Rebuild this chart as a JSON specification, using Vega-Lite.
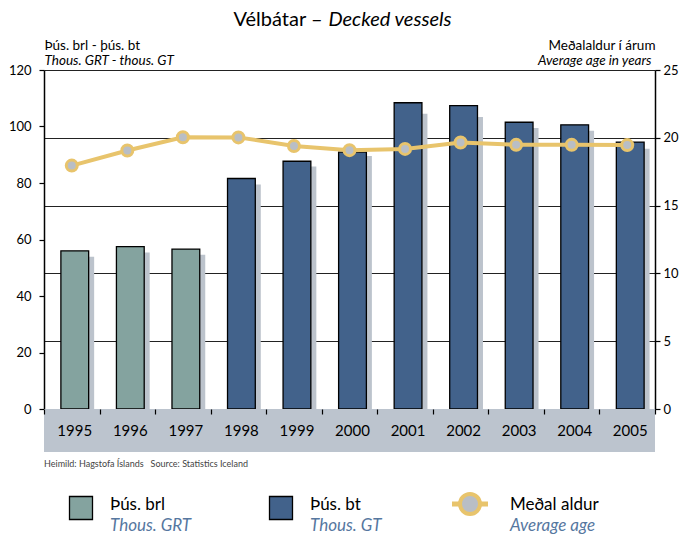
{
  "$schema": "https://vega.github.io/schema/vega-lite/v6.json",
  "padding": {"left": 8, "top": 9, "right": 5, "bottom": 0},
  "config": {
    "font": "Lato",
    "view": {"stroke": null},
    "axis": {"labelFont": "Lato", "titleFont": "Lato", "labelColor": "#000", "titleColor": "#000"},
    "title": {"font": "Lato"}
  },
  "datasets": {
    "main": [
      {"year": "1995", "unit": "brl", "tonnage": 56.0, "shadow": 53.9, "age": 17.95},
      {"year": "1996", "unit": "brl", "tonnage": 57.5, "shadow": 55.4, "age": 19.06},
      {"year": "1997", "unit": "brl", "tonnage": 56.6, "shadow": 54.6, "age": 20.04},
      {"year": "1998", "unit": "bt", "tonnage": 81.6, "shadow": 79.5, "age": 20.03},
      {"year": "1999", "unit": "bt", "tonnage": 87.7, "shadow": 85.8, "age": 19.4},
      {"year": "2000", "unit": "bt", "tonnage": 90.9, "shadow": 89.6, "age": 19.09},
      {"year": "2001", "unit": "bt", "tonnage": 108.4, "shadow": 104.5, "age": 19.18},
      {"year": "2002", "unit": "bt", "tonnage": 107.4, "shadow": 103.4, "age": 19.65},
      {"year": "2003", "unit": "bt", "tonnage": 101.5, "shadow": 99.5, "age": 19.48},
      {"year": "2004", "unit": "bt", "tonnage": 100.6, "shadow": 98.5, "age": 19.48},
      {"year": "2005", "unit": "bt", "tonnage": 94.5, "shadow": 92.1, "age": 19.46}
    ],
    "legend": [
      {"key": "brl", "line1": "Þús. brl", "line2": "Thous. GRT"},
      {"key": "bt", "line1": "Þús. bt", "line2": "Thous. GT"},
      {"key": "age", "line1": "Meðal aldur", "line2": "Average age"}
    ]
  },
  "spacing": 0,
  "bounds": "flush",
  "vconcat": [
    {
      "width": 611,
      "height": 339,
      "data": {"name": "main"},
      "layer": [
        {
          "encoding": {
            "x": {
              "field": "year", "type": "ordinal",
              "scale": {"paddingInner": 0, "paddingOuter": 0},
              "axis": {"orient": "bottom", "labels": false, "ticks": false, "domain": false, "grid": false,
                "title": "Thous. GRT - thous. GT", "titleX": 0, "titleY": -345, "titleAlign": "left",
                "titleBaseline": "alphabetic", "titleFontSize": 13.5, "titleFontStyle": "italic", "titleFontWeight": "normal"}
            }
          },
          "layer": [
            {
              "mark": {"type": "bar", "color": "#bcc3cc", "width": {"band": 0.5}, "xOffset": 8.5},
              "encoding": {
                "y": {
                  "field": "shadow", "type": "quantitative",
                  "scale": {"domain": [0, 120], "nice": false},
                  "axis": {"title": "Þús. brl - þús. bt", "titleAngle": 0, "titleX": 0, "titleY": -21, "titleAlign": "left",
                    "titleBaseline": "alphabetic", "titleFontSize": 13.5, "titleFontWeight": "normal",
                    "values": [0, 20, 40, 60, 80, 100, 120], "grid": false, "domainColor": "#000", "domainWidth": 1.5,
                    "tickColor": "#000", "tickSize": 5, "tickWidth": 1.2, "labelFontSize": 13, "labelPadding": 8}
                }
              }
            },
            {
              "mark": {"type": "bar", "width": {"band": 0.5}, "xOffset": 3, "stroke": "#000", "strokeWidth": 1.3},
              "encoding": {
                "y": {
                  "field": "tonnage", "type": "quantitative",
                  "axis": {"title": "Þús. brl - þús. bt", "titleAngle": 0, "titleX": 0, "titleY": -21, "titleAlign": "left",
                    "titleBaseline": "alphabetic", "titleFontSize": 13.5, "titleFontWeight": "normal",
                    "values": [0, 20, 40, 60, 80, 100, 120], "grid": false, "domainColor": "#000", "domainWidth": 1.5,
                    "tickColor": "#000", "tickSize": 5, "tickWidth": 1.2, "labelFontSize": 13, "labelPadding": 8}
                },
                "fill": {"field": "unit", "type": "nominal", "scale": {"domain": ["brl", "bt"], "range": ["#84a39f", "#42628b"]}, "legend": null}
              }
            }
          ]
        },
        {
          "encoding": {
            "x": {
              "field": "year", "type": "ordinal",
              "axis": {"orient": "top", "labels": false, "ticks": false, "domain": false, "grid": false,
                "title": "Average age in years", "titleX": 607, "titleY": -6, "titleAlign": "right",
                "titleBaseline": "alphabetic", "titleFontSize": 13.5, "titleFontStyle": "italic", "titleFontWeight": "normal"}
            },
            "y": {
              "field": "age", "type": "quantitative",
              "scale": {"domain": [0, 25], "nice": false},
              "axis": {"orient": "right", "title": "Meðalaldur í árum", "titleAngle": 0, "titleX": 0, "titleY": -21,
                "titleAlign": "right", "titleBaseline": "alphabetic", "titleFontSize": 13.5, "titleFontWeight": "normal",
                "values": [0, 5, 10, 15, 20, 25], "grid": true, "gridColor": "#222", "gridWidth": 1.2, "gridOpacity": 1,
                "domainColor": "#000", "domainWidth": 1.5, "tickColor": "#000", "tickSize": 5, "tickWidth": 1.2,
                "labelFontSize": 13, "labelPadding": 3}
            }
          },
          "layer": [
            {"mark": {"type": "line", "color": "#e8c46c", "strokeWidth": 4}},
            {"mark": {"type": "point", "filled": true, "fill": "#b9bec5", "stroke": "#e8c46c", "strokeWidth": 3, "size": 121, "opacity": 1}}
          ]
        }
      ],
      "resolve": {"scale": {"y": "independent"}, "axis": {"x": "independent"}}
    },
    {
      "width": 611,
      "height": 43,
      "data": {"name": "main"},
      "view": {"fill": "#bcc4ce", "stroke": null},
      "title": {"text": "Heimild: Hagstofa Íslands\u00a0\u00a0\u00a0Source: Statistics Iceland", "orient": "bottom", "anchor": "start",
        "frame": "group", "fontSize": 9, "fontWeight": "normal", "color": "#444", "offset": 8},
      "mark": {"type": "text", "fontSize": 15, "xOffset": 3, "color": "#000", "baseline": "middle"},
      "encoding": {
        "x": {
          "field": "year", "type": "ordinal",
          "scale": {"paddingInner": 0, "paddingOuter": 0},
          "axis": {"orient": "top", "labels": false, "domain": false, "ticks": true, "tickBand": "extent", "tickSize": -5,
            "tickColor": "#000", "tickWidth": 1.2, "grid": false,
            "title": "Vélbátar –", "titleX": 278, "titleY": -383.5, "titleAlign": "right", "titleBaseline": "alphabetic",
            "titleFontSize": 20, "titleFontWeight": "normal"}
        },
        "text": {"field": "year"}
      }
    },
    {
      "width": 611,
      "height": 84,
      "data": {"name": "legend"},
      "encoding": {
        "x": {
          "field": "line1", "type": "nominal",
          "scale": {"type": "point", "domain": ["Þús. brl", "Þús. bt", "Meðal aldur"], "range": [66, 466], "padding": 0},
          "axis": {"orient": "top", "labels": false, "ticks": false, "domain": false, "grid": false,
            "title": "Decked vessels", "titleX": 284, "titleY": -426.5, "titleAlign": "left", "titleBaseline": "alphabetic",
            "titleFontSize": 20, "titleFontStyle": "italic", "titleFontWeight": "normal"}
        }
      },
      "layer": [
        {
          "transform": [{"filter": "datum.key !== 'age'"}],
          "mark": {"type": "point", "shape": "square", "filled": true, "size": 529, "stroke": "#000", "strokeWidth": 1.3,
            "xOffset": -29, "yOffset": 14, "opacity": 1},
          "encoding": {
            "fill": {"field": "key", "type": "nominal", "scale": {"domain": ["brl", "bt"], "range": ["#84a39f", "#42628b"]}, "legend": null}
          }
        },
        {
          "transform": [{"filter": "datum.key === 'age'"}],
          "mark": {"type": "point", "shape": "stroke", "filled": false, "size": 1296, "stroke": "#e8c46c", "strokeWidth": 5,
            "xOffset": -40, "yOffset": 10, "opacity": 1}
        },
        {
          "transform": [{"filter": "datum.key === 'age'"}],
          "mark": {"type": "point", "shape": "circle", "filled": true, "fill": "#b9bec5", "size": 400, "stroke": "#e8c46c",
            "strokeWidth": 4, "xOffset": -40, "yOffset": 10, "opacity": 1}
        },
        {
          "mark": {"type": "text", "align": "left", "baseline": "alphabetic", "fontSize": 17, "yOffset": 16, "color": "#000"},
          "encoding": {"text": {"field": "line1"}}
        },
        {
          "mark": {"type": "text", "align": "left", "baseline": "alphabetic", "fontSize": 17, "fontStyle": "italic", "yOffset": 37, "color": "#56779f"},
          "encoding": {"text": {"field": "line2"}}
        }
      ]
    }
  ]
}
